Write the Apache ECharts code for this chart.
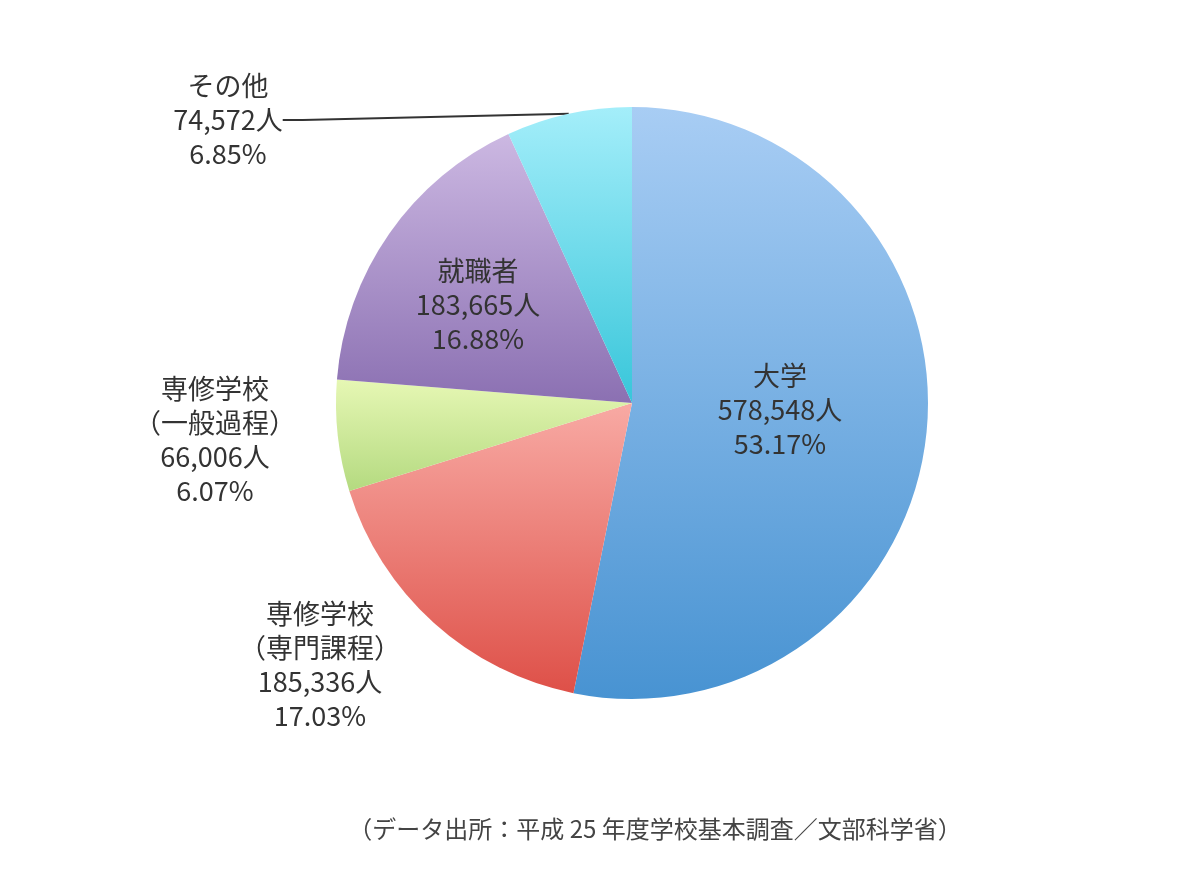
<!DOCTYPE html>
<html><head><meta charset="utf-8">
<script src="https://cdn.jsdelivr.net/npm/echarts@6/dist/echarts.min.js"></script>
<style>html,body{margin:0;background:#fff}#c{width:1200px;height:876px}</style>
</head><body><div id="c"></div>
<script>
const categories = ['大学', '専修学校\n（専門課程）', '専修学校\n（一般過程）', '就職者', 'その他'];
const values = [578548, 185336, 66006, 183665, 74572];
const percents = ['53.17%', '17.03%', '6.07%', '16.88%', '6.85%'];
const colorsTop = ['#a8cdf4', '#f8aaa4', '#e6f7b4', '#ccb8e2', '#a4eefa'];
const colorsBottom = ['#4893d2', '#de5048', '#b4da80', '#8b70b2', '#38c6da'];
const labelPos = [[780, 410], [320, 665], [215, 440], [478, 305], [228, 120]];

const chart = echarts.init(document.getElementById('c'));
const fmt = v => v.toLocaleString('en-US') + '人';
chart.setOption({
  animation: false,
  title: {text: '（データ出所：平成 25 年度学校基本調査／文部科学省）', left: 650, top: 812, textAlign: 'center',
    textStyle: {fontFamily: 'Noto Sans CJK JP', fontSize: 24, fontWeight: 'normal', color: '#444'}},
  series: [{
    type: 'pie', center: [632, 403], radius: [0, 296], startAngle: 90, clockwise: true,
    data: categories.map((c, i) => ({
      name: c, value: values[i],
      itemStyle: {color: new echarts.graphic.LinearGradient(0, 0, 0, 1, [{offset: 0, color: colorsTop[i]}, {offset: 1, color: colorsBottom[i]}])},
      labelLine: {show: i === 4, length: 20, length2: 20, lineStyle: {color: '#333', width: 2}}
    })),
    label: {
      position: 'outside', fontFamily: 'Noto Sans CJK JP', fontSize: 27, lineHeight: 34, color: '#333',
      formatter: p => p.name + '\n' + fmt(p.value) + '\n' + percents[p.dataIndex]
    },
    labelLayout: p => ({x: labelPos[p.dataIndex][0], y: labelPos[p.dataIndex][1], align: 'center', verticalAlign: 'middle'})
  }]
});
</script></body></html>
